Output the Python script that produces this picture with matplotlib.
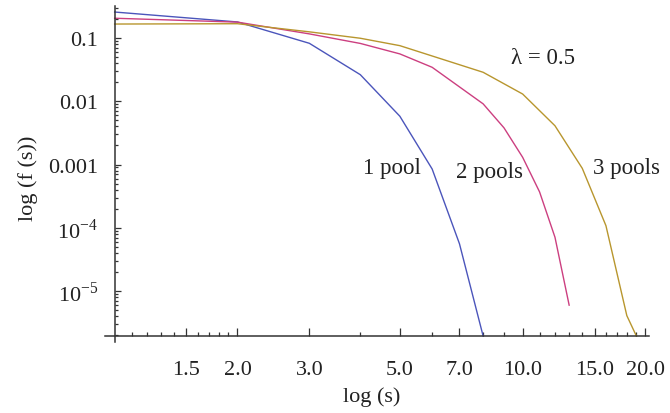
import numpy as np
import matplotlib.pyplot as plt
from matplotlib.ticker import FixedLocator, FixedFormatter, LogLocator, NullFormatter

plt.rcParams['font.family'] = ['Liberation Serif', 'DejaVu Serif']
plt.rcParams['mathtext.fontset'] = 'custom'
plt.rcParams['mathtext.rm'] = 'Liberation Serif'

# Data
s1 = [1, 2, 3, 4, 5, 6, 7, 8]
f1 = [0.257, 0.179, 0.0824, 0.0263, 0.0058, 8.5e-4, 5.6e-5, 1.95e-6]

s2 = [1, 2, 3, 4, 5, 6, 8, 9, 10, 11, 12, 13]
f2 = [0.205, 0.178, 0.116, 0.082, 0.056, 0.0344, 0.0091, 0.0038, 0.0013,
      3.7e-4, 7.1e-5, 6.0e-6]

s3 = [1, 2, 3, 4, 5, 8, 10, 12, 14, 16, 18, 19]
f3 = [0.166, 0.168, 0.125, 0.099, 0.0756, 0.0287, 0.013, 0.0041, 8.7e-4,
      1.08e-4, 4.1e-6, 1.95e-6]

xmajor = [1.5, 2, 3, 5, 7, 10, 15, 20]
xmajor_labels = ['1.5', '2.0', '3.0', '5.0', '7.0', '10.0', '15.0', '20.0']
xminor = [1.1, 1.2, 1.3, 1.4, 1.6, 1.7, 1.8, 1.9, 4, 6, 8, 9,
          11, 12, 13, 14, 16, 17, 18, 19]
ymajor = [0.1, 0.01, 0.001, 1e-4, 1e-5]
ymajor_labels = ['0.1', '0.01', '0.001', '10$^{\\mathregular{-4}}$', '10$^{\\mathregular{-5}}$']

fig = plt.figure(figsize=(6.7, 4.14), dpi=100)
ax = fig.add_axes([105/670, 71/414, 544/670, 336/414])

ax.plot(s1, f1, color='#4b55bb', lw=1.0)
ax.plot(s2, f2, color='#cc3f80', lw=1.0)
ax.plot(s3, f3, color='#b8962e', lw=1.0)

ax.set_xscale('log')
ax.set_yscale('log')
ax.set_xlim(0.947, 20.4)
ax.set_ylim(1.57e-6, 0.32)

for side in ['top', 'right']:
    ax.spines[side].set_visible(False)
ax.spines['left'].set_position(('data', 1))
ax.spines['bottom'].set_position(('data', 1.95e-6))
for side in ['left', 'bottom']:
    ax.spines[side].set_color('#333333')
    ax.spines[side].set_linewidth(1.1)

ax.xaxis.set_major_locator(FixedLocator(xmajor))
ax.xaxis.set_major_formatter(FixedFormatter(xmajor_labels))
ax.xaxis.set_minor_locator(FixedLocator(xminor))
ax.xaxis.set_minor_formatter(NullFormatter())
ax.yaxis.set_major_locator(FixedLocator(ymajor))
ax.yaxis.set_major_formatter(FixedFormatter(ymajor_labels))
ax.yaxis.set_minor_locator(LogLocator(base=10, subs=np.arange(2, 10)))
ax.yaxis.set_minor_formatter(NullFormatter())

ax.tick_params(axis='x', which='major', direction='in', length=5.5, width=0.9,
               pad=17, labelsize=16, color='#333333', labelcolor='#222222')
ax.tick_params(axis='x', which='minor', direction='in', length=3.0, width=0.9,
               color='#333333')
ax.tick_params(axis='y', which='major', direction='in', length=4.2, width=0.9,
               pad=12, labelsize=16, color='#333333', labelcolor='#222222')
ax.tick_params(axis='y', which='minor', direction='in', length=2.4, width=0.9,
               color='#333333')

ax.set_xlabel('log (s)', fontsize=16, color='#222222')
ax.xaxis.set_label_coords(0.491, -0.131)
ax.set_ylabel('log (f (s))', fontsize=16, color='#222222')
ax.yaxis.set_label_coords(-0.123, 0.491)

ax.text(11.2, 0.05, 'λ = 0.5', fontsize=16.5, color='#222222', ha='center', va='center')
ax.text(4.78, 9.1e-4, '1 pool', fontsize=16.5, color='#222222', ha='center', va='center')
ax.text(8.3, 7.9e-4, '2 pools', fontsize=16.5, color='#222222', ha='center', va='center')
ax.text(18.0, 9.1e-4, '3 pools', fontsize=16.5, color='#222222', ha='center', va='center')

fig.savefig('out.png', dpi=100)
